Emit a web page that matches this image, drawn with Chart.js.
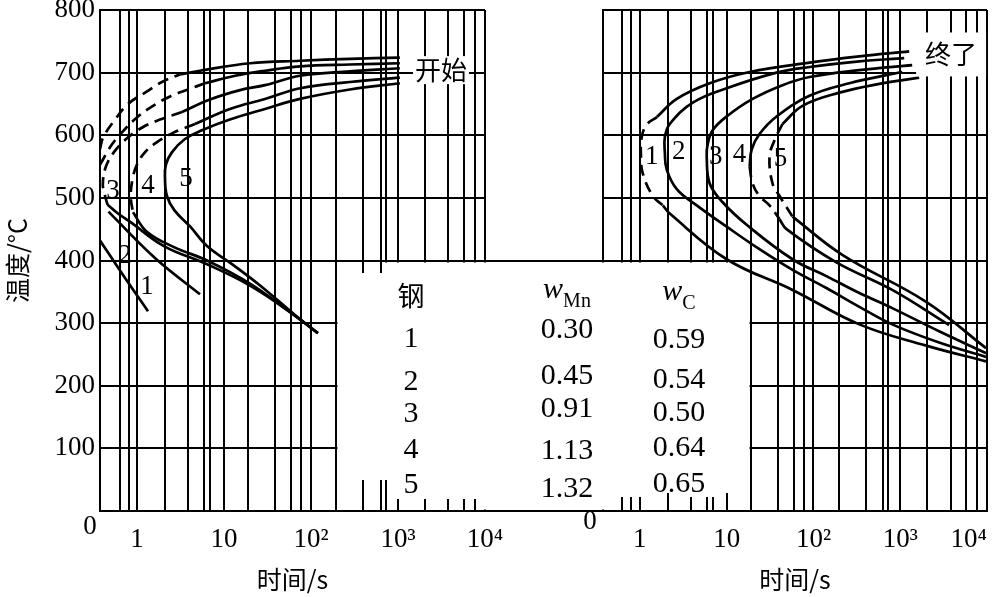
<!DOCTYPE html>
<html lang="zh">
<head>
    <meta charset="UTF-8">
    <title>钢的等温转变开始与终了曲线</title>
    <script src="https://cdn.jsdelivr.net/npm/chart.js"></script>
    <style>
        body {
            margin: 0;
            background: #fff;
            width: 997px;
            height: 597px;
            position: relative;
            overflow: hidden;
            font-family: "Liberation Serif", "DejaVu Serif", serif;
        }
        canvas { position: absolute; top: 0; }
        #startChart { left: 0; }
        #finishChart { left: 545px; }
        .cell {
            position: absolute;
            transform: translate(-50%, -50%);
            font-size: 30px;
            line-height: 1;
            color: #000;
            white-space: nowrap;
        }
        .cjk { font-family: "Noto Sans CJK SC", sans-serif; font-size: 27px; }
        .w { font-style: italic; }
        .sub { font-size: 20px; position: relative; top: 9px; }
    </style>
</head>
<body>
    <canvas id="startChart" width="545" height="597"></canvas>
    <canvas id="finishChart" width="452" height="597"></canvas>
    <div id="table"></div>

    <script>
        // log paper: vertical rulings (s) and labelled decades
        const gridTimes = [0.63, 0.8, 1, 2.1, 3.9, 5.9, 7, 10, 19, 39, 59, 77, 100, 195, 400, 630, 720, 1000, 2050, 3800, 5800, 7700, 10000];
        const timeLabels = { 1: '1', 10: '10', 100: '10²', 1000: '10³', 10000: '10⁴' };
        const tempTicks = [0, 100, 200, 300, 400, 500, 600, 700, 800];
        const tMin = 0.376, tMax = 10000;

        // transformation start curves [time s, temperature °C]
        const start1Dash = [[0.376, 578], [0.41, 597], [0.56, 625], [0.79, 650], [1.24, 668], [1.94, 685], [3.1, 697]];
        const start1 = [[3.1, 697], [5.3, 703], [19.9, 715], [75, 719], [280, 722], [1050, 724]];
        const start1Low = [[0.376, 432], [0.73, 372], [1.34, 319]];
        const start2Dash = [[0.376, 553], [0.52, 586], [0.73, 610], [1.03, 630], [1.53, 647], [2.4, 662], [3.86, 673], [6.05, 683]];
        const start2 = [[6.05, 683], [13.4, 695], [29.6, 703], [75, 710], [280, 713], [1050, 715]];
        const start2Low = [[0.47, 478], [1.61, 404], [5.3, 346]];
        const start3Dash = [[3.29, 637], [1.84, 625], [1.14, 612], [0.75, 594], [0.544, 573], [0.44, 550], [0.405, 522], [0.43, 503], [0.46, 489]];
        const start3 = [[3.29, 637], [6.9, 657], [15.3, 672], [29.6, 680], [75, 695], [280, 702], [1050, 707]];
        const start3Low = [[0.46, 489], [0.605, 475], [0.83, 462], [2.04, 423], [6.38, 394], [19.9, 360], [57, 318], [120, 284]];
        const start4Dash = [[4.64, 618], [2.53, 603], [1.7, 589], [1.24, 573], [1.0, 553], [0.88, 527], [0.85, 500], [0.9, 477]];
        const start4 = [[4.64, 618], [11.7, 642], [29.6, 658], [75, 675], [280, 685], [1050, 692]];
        const start4Low = [[0.9, 477], [1.3, 446], [2.7, 421], [6.38, 400], [19.9, 363], [57, 318], [120, 284]];
        const start5 = [[1050, 683], [280, 673], [75, 658], [29.6, 642], [11.7, 625], [5.59, 608], [3.56, 594], [2.53, 573], [2.15, 553],
                        [2.1, 531], [2.21, 503], [2.7, 480], [4.1, 454], [6.38, 423], [12.7, 393], [26, 360], [65.5, 313], [120, 284]];

        // transformation finish curves
        const finish1Dash = [[1.57, 629], [1.2, 617], [1.05, 597], [1.03, 566], [1.08, 539], [1.41, 503], [1.84, 488]];
        const finish1 = [[1.57, 629], [2.66, 658], [6.38, 683], [18.4, 701], [90, 716], [338, 726], [1268, 734]];
        const finish1Low = [[1.84, 488], [2.21, 475], [10, 402], [57.4, 353], [338, 298], [1991, 264], [9750, 239]];
        const finish2 = [[1112, 723], [338, 718], [90, 709], [37.6, 700], [10, 675], [4.07, 652], [2.21, 618], [1.94, 597], [1.94, 573],
                         [2.04, 545], [2.66, 514], [4.52, 488], [10, 454], [23.9, 418], [57.4, 385], [141, 356], [338, 326], [809, 298], [2807, 269], [9750, 246]];
        const finish3 = [[1374, 712], [338, 704], [90, 693], [44, 680], [19.9, 658], [10, 630], [6.9, 608], [6.05, 586], [5.89, 566],
                         [6.38, 523], [9.0, 493], [17, 457], [57.4, 402], [141, 375], [338, 348], [809, 324], [2807, 287], [9750, 252]];
        const finish4 = [[1054, 701], [259, 683], [90, 663], [37.6, 630], [23.9, 602], [19.4, 577], [18.4, 550]];
        const finish4Dash = [[18.4, 550], [19.9, 523], [23.9, 503], [31.2, 488], [40.7, 466]];
        const finish4Low = [[40.7, 466], [49, 450], [184, 397], [809, 353], [3656, 297]];
        const finish5 = [[1652, 692], [574, 682], [199, 668], [74.8, 647], [44, 618]];
        const finish5Dash = [[44, 618], [35.6, 592], [31.2, 566], [33.8, 523], [40.7, 503], [57.4, 470]];
        const finish5Low = [[57.4, 470], [215, 409], [1991, 334], [9750, 260]];

        // curve numbers and tags [text, time, temperature]
        const startNumbers = [['1', 1.3, 358], ['2', 0.73, 408], ['3', 0.53, 511], ['4', 1.34, 519], ['5', 3.66, 531]];
        const finishNumbers = [['1', 1.37, 566], ['2', 2.81, 573], ['3', 7.5, 566], ['4', 14.1, 569], ['5', 41.8, 563]];
        const startTag = ['开始', 3120, 704];
        const finishTag = ['终了', 3855, 729];

        // composition table
        const steelNo = ['1', '2', '3', '4', '5'];
        const wMn = ['0.30', '0.45', '0.91', '1.13', '1.32'];
        const wC = ['0.59', '0.54', '0.50', '0.64', '0.65'];

        const serif = '"Liberation Serif", "DejaVu Serif", serif';
        const cjk = '"Noto Sans CJK SC", sans-serif';
        Chart.defaults.font.family = serif;
        Chart.defaults.color = '#000';

        const overlay = {
            id: 'overlay',
            beforeDatasetsDraw(chart, args, o) {
                const { ctx, chartArea: a, scales: { x, y } } = chart;
                const y400 = Math.round(y.getPixelForValue(400));
                const x0 = o.boxFrom != null ? Math.round(x.getPixelForValue(o.boxFrom)) + 1.5 : a.left - 3;
                const x1 = o.boxTo != null ? Math.round(x.getPixelForValue(o.boxTo)) - 1.5 : a.right + 3;
                ctx.save();
                ctx.fillStyle = '#fff';
                ctx.fillRect(x0, y400 + 1.5, x1 - x0, a.bottom - y400 - 3);
                ctx.strokeStyle = '#000';
                ctx.lineWidth = 2;
                ctx.beginPath();
                o.stubs.forEach(([v, len, top]) => {
                    const px = Math.round(x.getPixelForValue(v));
                    ctx.moveTo(px, a.bottom);
                    ctx.lineTo(px, a.bottom - len);
                    if (top) {
                        ctx.moveTo(px, y400);
                        ctx.lineTo(px, y400 + top);
                    }
                });
                // the 400 line and the base line run on across the gap
                const gx0 = o.gapSide === 'right' ? a.right : 0;
                const gx1 = o.gapSide === 'right' ? chart.width : a.left;
                ctx.moveTo(gx0, y400);
                ctx.lineTo(gx1, y400);
                ctx.moveTo(gx0, Math.round(a.bottom));
                ctx.lineTo(gx1, Math.round(a.bottom));
                ctx.stroke();
                ctx.restore();
            },
            afterDraw(chart, args, o) {
                const { ctx, chartArea: a, scales: { x, y } } = chart;
                ctx.save();
                ctx.textAlign = 'center';
                ctx.textBaseline = 'middle';
                ctx.fillStyle = '#000';
                ctx.font = '27px ' + serif;
                o.numbers.forEach(([s, t, T]) => ctx.fillText(s, x.getPixelForValue(t), y.getPixelForValue(T)));
                ctx.fillText('0', a.left + o.zero[0], a.bottom + o.zero[1]);

                const [tag, t, T] = o.tag;
                const px = x.getPixelForValue(t), py = y.getPixelForValue(T);
                ctx.font = '26px ' + cjk;
                const w = ctx.measureText(tag).width;
                ctx.fillStyle = '#fff';
                ctx.fillRect(px - w / 2 - o.tagPad[0], py - o.tagPad[1], w + 2 * o.tagPad[0], 2 * o.tagPad[1]);
                ctx.fillStyle = '#000';
                ctx.fillText(tag, px, py);
                ctx.restore();
            }
        };

        function segment(points, dashed) {
            return {
                data: points.map(([t, T]) => ({ x: t, y: T })),
                borderColor: '#000',
                borderWidth: 2.7,
                borderDash: dashed ? [11, 7] : [],
                pointRadius: 0,
                tension: 0.4,
                fill: false
            };
        }

        function makeChart(id, datasets, cfg) {
            return new Chart(document.getElementById(id), {
                type: 'line',
                data: { datasets: datasets },
                options: {
                    responsive: false,
                    animation: false,
                    devicePixelRatio: 1,
                    layout: { padding: { top: 10, right: cfg.padRight, bottom: 0, left: 0 } },
                    plugins: {
                        legend: { display: false },
                        tooltip: { enabled: false },
                        overlay: cfg.overlay
                    },
                    scales: {
                        x: {
                            type: 'logarithmic',
                            min: tMin,
                            max: tMax,
                            afterBuildTicks: s => { s.ticks = gridTimes.map(v => ({ value: v })); },
                            afterFit: s => { s.height = 86; s.paddingLeft = 0; s.paddingRight = 0; },
                            ticks: {
                                autoSkip: false,
                                maxRotation: 0,
                                align: cfg.tickAlign,
                                padding: 13,
                                font: { size: 27 },
                                callback: v => timeLabels[v] || ''
                            },
                            grid: { color: '#000', lineWidth: 2, drawTicks: false },
                            border: { color: '#000', width: 2 },
                            title: { display: true, text: '时间/s', font: { family: cjk, size: 25 }, padding: { top: 0, bottom: 3 } }
                        },
                        y: {
                            min: 0,
                            max: 800,
                            afterBuildTicks: s => { s.ticks = tempTicks.map(v => ({ value: v })); },
                            afterFit: s => { s.width = cfg.yWidth; s.paddingTop = 0; s.paddingBottom = 0; },
                            ticks: {
                                display: cfg.showY,
                                padding: 5,
                                font: { size: 27 },
                                callback: v => (v === 0 ? '' : v)
                            },
                            grid: { color: '#000', lineWidth: 2, drawTicks: false },
                            border: { color: '#000', width: 2 },
                            title: { display: cfg.showY, text: '温度/°C', font: { family: cjk, size: 25 }, padding: { top: 2, bottom: 0 } }
                        }
                    }
                },
                plugins: [overlay]
            });
        }

        makeChart('startChart', [
            segment(start1Dash, true), segment(start1), segment(start1Low),
            segment(start2Dash, true), segment(start2), segment(start2Low),
            segment(start3Dash, true), segment(start3), segment(start3Low),
            segment(start4Dash, true), segment(start4), segment(start4Low),
            segment(start5)
        ], {
            padRight: 60,
            yWidth: 100,
            showY: true,
            tickAlign: 'center',
            overlay: {
                boxFrom: 195,
                gapSide: 'right',
                stubs: [[400, 31, 12], [630, 31, 12], [720, 31], [1000, 12], [2050, 12], [3800, 12], [5800, 12], [7700, 12]],
                numbers: startNumbers,
                tag: startTag,
                tagPad: [2, 14],
                zero: [-10, 16]
            }
        });

        makeChart('finishChart', [
            segment(finish1Dash, true), segment(finish1), segment(finish1Low),
            segment(finish2),
            segment(finish3),
            segment(finish4), segment(finish4Dash, true), segment(finish4Low),
            segment(finish5), segment(finish5Dash, true), segment(finish5Low)
        ], {
            padRight: 10,
            yWidth: 58,
            showY: false,
            tickAlign: 'inner',
            overlay: {
                boxTo: 19,
                gapSide: 'left',
                stubs: [[0.63, 14], [0.8, 14], [1, 14], [2.1, 18], [3.9, 14], [5.9, 14], [7, 14], [10, 18]],
                numbers: finishNumbers,
                tag: finishTag,
                tagPad: [9, 22],
                zero: [-13, 11]
            }
        });

        // table of compositions (mass fraction, %)
        const table = document.getElementById('table');
        const columns = [
            { x: 411, head: '<span class="cjk">钢</span>', headY: 296, values: steelNo, rows: [337, 380, 412, 448, 483] },
            { x: 567, head: '<span class="w">w</span><span class="sub">Mn</span>', headY: 288, values: wMn, rows: [328, 374, 407, 449, 487] },
            { x: 679, head: '<span class="w">w</span><span class="sub">C</span>', headY: 290, values: wC, rows: [338, 378, 411, 446, 482] }
        ];
        columns.forEach(col => {
            const head = document.createElement('div');
            head.className = 'cell';
            head.style.left = col.x + 'px';
            head.style.top = col.headY + 'px';
            head.innerHTML = col.head;
            table.appendChild(head);
            col.values.forEach((v, i) => {
                const cell = document.createElement('div');
                cell.className = 'cell';
                cell.style.left = col.x + 'px';
                cell.style.top = col.rows[i] + 'px';
                cell.textContent = v;
                table.appendChild(cell);
            });
        });
    </script>
</body>
</html>
